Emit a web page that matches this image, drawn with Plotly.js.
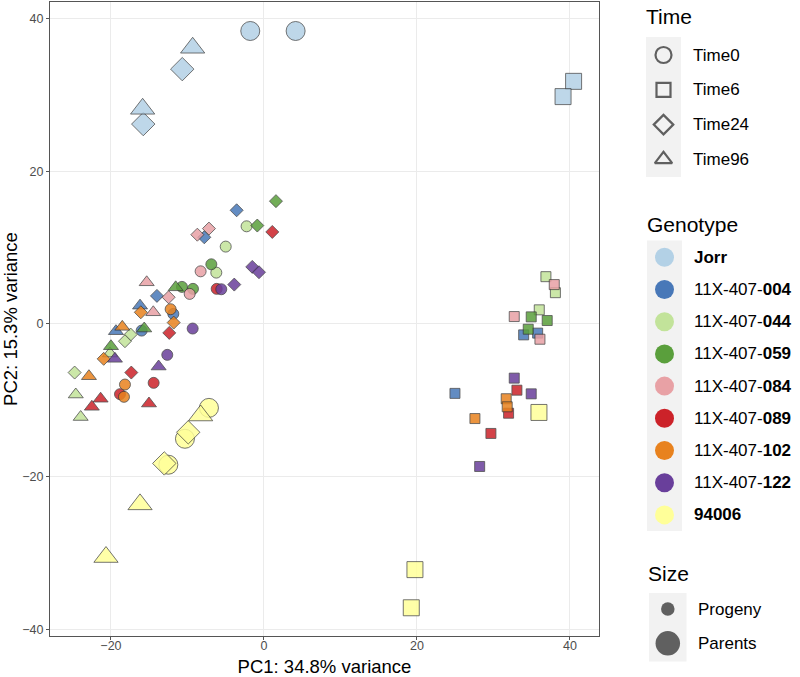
<!DOCTYPE html>
<html><head><meta charset="utf-8">
<script src="https://cdn.plot.ly/plotly-3.0.1.min.js"></script>
<style>html,body{margin:0;padding:0;background:#fff}</style>
</head><body><div id="chart" style="width:800px;height:677px"></div>
<script>
// ---- categories ----
const genotypes = ['Jorr','004','044','059','084','089','102','122','94006'];
const genotypeLabels = ['<b>Jorr</b>','11X-407-<b>004</b>','11X-407-<b>044</b>','11X-407-<b>059</b>','11X-407-<b>084</b>','11X-407-<b>089</b>','11X-407-<b>102</b>','11X-407-<b>122</b>','<b>94006</b>'];
const genotypeColors = ['#b3d1e6','#4878b8','#c2e39a','#5a9f3c','#e8a1a5','#cc2229','#e8821e','#693f9b','#ffff99'];
const times = ['Time0','Time6','Time24','Time96'];
const sizeGroups = ['Progeny','Parents'];
const parentGenotypes = ['Jorr','94006'];

// ---- data ----
const pc1 = [
  -1.79, 4.14, 40.48, 39.1, -10.68, -15.78, -9.32, -15.86,
  -7.19, -10.33, -12.5, 35.95, 19.74, 19.26, -9.9, -13.03, -8.28, -16.2, -20.65,
  -3.57, -7.8, -13.99, -16.2, -19.35, -11.85, -15.99, 35.78, 33.95, 24.97,
  -2.27, -5.0, -6.23, -17.43, -18.17, -24.75, -20.13, -24.6, -23.96, 36.86, 38.1, 35.99,
  1.57, -0.87, -6.88, -10.72, -9.28, -11.54, -15.65, -20.0, 34.94, 37.03, 34.55,
  -7.19, -8.71, -12.46, -8.28, -9.71, -15.33, -14.47, 37.95, 32.72, 36.08,
  1.09, -12.38, -17.34, -6.18, -14.42, -18.82, -21.35, -22.5, -15.03, 33.07, 31.98, 29.67,
  -16.1, -11.8, -20.95, -12.2, -18.17, -18.3, -18.52, -22.88, 31.67, 31.8, 27.58,
  -1.53, -0.65, -3.88, -5.58, -9.32, -12.64, -19.48, -13.77, 32.72, 34.94, 28.2
];
const pc2 = [
  38.4, 38.4, 31.8, 29.8, 33.4, 26.2, 36.2, 28.2,
  -11.0, -15.05, -18.45, -11.6, -32.2, -37.2, -14.2, -18.28, -12.0, -23.65, -30.55,
  14.9, 11.36, 3.68, 2.4, -0.95, 1.32, -0.87, -1.2, -1.43, -9.1,
  12.8, 10.14, 6.73, -1.39, -2.26, -6.37, -3.88, -9.25, -12.2, 6.2, 4.1, 1.85,
  16.1, 12.9, 7.82, 4.86, 4.6, 4.8, -0.6, -2.92, 0.93, 0.45, -0.69,
  12.5, 11.7, 3.5, 6.9, 3.94, 5.46, 1.53, 5.16, 0.97, -2.0,
  12.06, -1.17, -6.37, 4.6, -7.72, -9.2, -9.8, -10.86, -10.43, -8.68, -11.7, -14.35,
  1.53, 0.18, -4.57, 1.93, -7.94, -9.55, -0.38, -6.85, -9.8, -10.86, -12.4,
  7.48, 6.78, 5.16, 4.55, -0.6, -4.05, -4.57, -5.58, -7.1, -9.16, -18.68
];
const pointGenotype = [
  'Jorr','Jorr','Jorr','Jorr','Jorr','Jorr','Jorr','Jorr',
  '94006','94006','94006','94006','94006','94006','94006','94006','94006','94006','94006',
  '004','004','004','004','004','004','004','004','004','004',
  '044','044','044','044','044','044','044','044','044','044','044','044',
  '059','059','059','059','059','059','059','059','059','059','059',
  '084','084','084','084','084','084','084','084','084','084',
  '089','089','089','089','089','089','089','089','089','089','089','089',
  '102','102','102','102','102','102','102','102','102','102','102',
  '122','122','122','122','122','122','122','122','122','122','122'
];
const pointTime = [
  'Time0','Time0','Time6','Time6','Time24','Time24','Time96','Time96',
  'Time0','Time0','Time0','Time6','Time6','Time6','Time24','Time24','Time96','Time96','Time96',
  'Time24','Time24','Time24','Time96','Time96','Time0','Time0','Time6','Time6','Time6',
  'Time0','Time0','Time0','Time24','Time24','Time24','Time96','Time96','Time96','Time6','Time6','Time6',
  'Time24','Time24','Time0','Time0','Time0','Time96','Time96','Time96','Time6','Time6','Time6',
  'Time24','Time24','Time24','Time0','Time0','Time96','Time96','Time6','Time6','Time6',
  'Time24','Time24','Time24','Time0','Time0','Time0','Time96','Time96','Time96','Time6','Time6','Time6',
  'Time24','Time24','Time24','Time0','Time0','Time0','Time96','Time96','Time6','Time6','Time6',
  'Time24','Time24','Time24','Time0','Time0','Time0','Time96','Time96','Time6','Time6','Time6'
];

// ---- styling ----
const FONT = 'Liberation Sans, Arial, Helvetica, sans-serif';
const timeSymbols = {Time0:'circle', Time6:'square', Time24:'diamond', Time96:'triangle-up'};
const sizeBySymbol = {
  Progeny: {Time0:11, Time6:10, Time24:10, Time96:13},
  Parents: {Time0:19, Time6:16, Time24:18, Time96:21}
};
const colorOf = g => genotypeColors[genotypes.indexOf(g)];
const groupOf = g => parentGenotypes.includes(g) ? 'Parents' : 'Progeny';

const traces = [{
  type:'scatter', mode:'markers', x: pc1, y: pc2, xaxis:'x', yaxis:'y',
  hoverinfo:'skip', showlegend:false,
  marker:{
    symbol: pointTime.map(t => timeSymbols[t]),
    color: pointGenotype.map(colorOf),
    size: pointTime.map((t,i) => sizeBySymbol[groupOf(pointGenotype[i])][t]),
    opacity: 0.85,
    line:{color:'#333333', width:0.8}
  }
}];

// ---- manual legend on a pixel-mapped helper axis ----
const annotations = [];
const shapes = [];
function title(text, x, y){
  annotations.push({xref:'x2', yref:'y2', x:x, y:y, text:text, showarrow:false,
    xanchor:'left', yanchor:'middle', font:{family:FONT, size:21, color:'#000'}});
}
function label(text, x, y){
  annotations.push({xref:'x2', yref:'y2', x:x, y:y, text:text, showarrow:false,
    xanchor:'left', yanchor:'middle', font:{family:FONT, size:17, color:'#000'}});
}
function bg(x0,x1,y0,y1){
  shapes.push({type:'rect', xref:'x2', yref:'y2', x0:x0, x1:x1, y0:y0, y1:y1,
    fillcolor:'#f2f2f2', line:{width:0}, layer:'below'});
}

// Time
title('Time', 644, 16);
bg(646, 681, 37, 177);
const timeKeySizes = {Time0:16, Time6:14, Time24:15, Time96:15};
const timeY = times.map((t,i) => 55 + i*34.8);
traces.push({type:'scatter', mode:'markers', xaxis:'x2', yaxis:'y2', hoverinfo:'skip', showlegend:false,
  x: times.map(() => 663.5), y: timeY,
  marker:{symbol: times.map(t => timeSymbols[t] + '-open'), size: times.map(t => timeKeySizes[t]),
    color:'#222222', line:{width:2.2, color:'#222222'}}});
times.forEach((t,i) => label(t, 690.5, timeY[i]));

// Genotype
title('Genotype', 645, 224);
bg(647, 682, 240.5, 531);
const genoY = genotypes.map((g,i) => 257.3 + i*32.2);
traces.push({type:'scatter', mode:'markers', xaxis:'x2', yaxis:'y2', hoverinfo:'skip', showlegend:false,
  x: genotypes.map(() => 664.5), y: genoY,
  marker:{symbol:'circle', size:19, color: genotypeColors, line:{width:0}}});
genotypes.forEach((g,i) => label(genotypeLabels[i], 692, genoY[i]));

// Size
title('Size', 646, 573);
bg(649, 686.5, 593, 661.5);
const sizeKeySizes = {Progeny:13.5, Parents:24.5};
const sizeY = sizeGroups.map((s,i) => 609 + i*34.3);
traces.push({type:'scatter', mode:'markers', xaxis:'x2', yaxis:'y2', hoverinfo:'skip', showlegend:false,
  x: sizeGroups.map(() => 667.8), y: sizeY,
  marker:{symbol:'circle', size: sizeGroups.map(s => sizeKeySizes[s]), color:'#222222', line:{width:0}}});
sizeGroups.forEach((s,i) => label(s, 695.5, sizeY[i]));

const axisCommon = {
  showgrid:true, gridcolor:'#ebebeb', gridwidth:1, zeroline:false,
  showline:true, mirror:true, linecolor:'#555555', linewidth:1,
  ticks:'outside', ticklen:3, tickcolor:'#555555', tickwidth:1,
  tickfont:{family:FONT, size:12.5, color:'#4d4d4d'}, automargin:false, dtick:20
};

const layout = {
  width:800, height:677, paper_bgcolor:'#fff', plot_bgcolor:'#fff',
  margin:{l:50, r:0, t:0, b:0},
  showlegend:false,
  xaxis: Object.assign({}, axisCommon, {domain:[0, 549/750], range:[-27.97, 43.8], tick0:0,
    ticklabelstandoff:-5,
    title:{text:'PC1: 34.8% variance', font:{family:FONT, size:18.5, color:'#000'}, standoff:8}}),
  yaxis: Object.assign({}, axisCommon, {domain:[41/677, 675/677], range:[-40.9, 42.2], tick0:0,
    title:{text:'PC2: 15.3% variance', font:{family:FONT, size:18.5, color:'#000'}, standoff:1}}),
  xaxis2: {domain:[550/750, 1], range:[600, 800], visible:false, fixedrange:true, anchor:'y2', showgrid:false, zeroline:false},
  yaxis2: {domain:[0, 1], range:[677, 0], visible:false, fixedrange:true, anchor:'x2', showgrid:false, zeroline:false},
  annotations: annotations,
  shapes: shapes
};

Plotly.newPlot('chart', traces, layout, {displayModeBar:false, staticPlot:true});
</script>
</body></html>
